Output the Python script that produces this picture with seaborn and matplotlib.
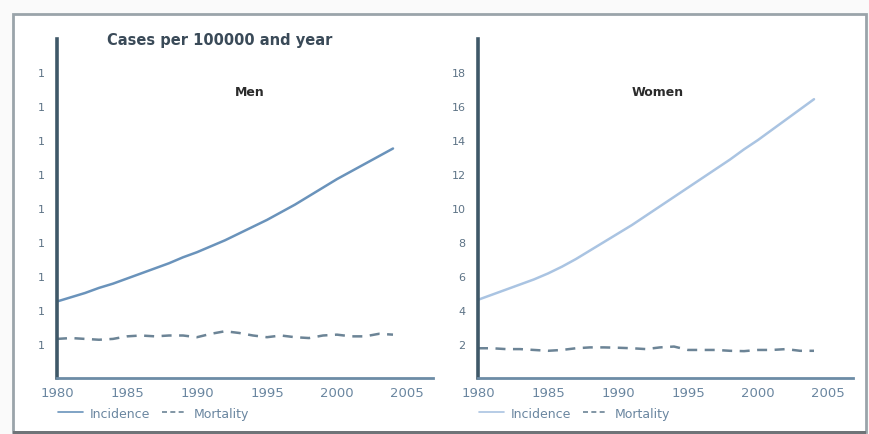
import numpy as np
import pandas as pd
import matplotlib
matplotlib.use("Agg")
import matplotlib.pyplot as plt
from matplotlib.patches import Rectangle
from matplotlib.lines import Line2D
import seaborn as sns

years = list(range(1980, 2005))
men_incidence = [4.5, 4.75, 5.0, 5.3, 5.55, 5.85, 6.15, 6.45, 6.75, 7.1, 7.4, 7.75, 8.1,
                 8.5, 8.9, 9.3, 9.75, 10.2, 10.7, 11.2, 11.7, 12.15, 12.6, 13.05, 13.5]
men_mortality = [2.3, 2.35, 2.3, 2.25, 2.3, 2.45, 2.5, 2.45, 2.5, 2.5, 2.4, 2.6, 2.75,
                 2.65, 2.5, 2.4, 2.5, 2.4, 2.35, 2.5, 2.55, 2.45, 2.45, 2.6, 2.55]
women_incidence = [4.6, 4.9, 5.2, 5.5, 5.8, 6.15, 6.55, 7.0, 7.5, 8.0, 8.5, 9.0, 9.55,
                   10.1, 10.65, 11.2, 11.75, 12.3, 12.85, 13.45, 14.0, 14.6, 15.2, 15.8, 16.4]
women_mortality = [1.75, 1.75, 1.7, 1.7, 1.65, 1.6, 1.65, 1.75, 1.8, 1.8, 1.78, 1.75, 1.7,
                   1.8, 1.85, 1.65, 1.65, 1.65, 1.6, 1.58, 1.65, 1.65, 1.7, 1.6, 1.6]
x_ticks = [1980, 1985, 1990, 1995, 2000, 2005]
y_ticks = [2, 4, 6, 8, 10, 12, 14, 16, 18]
men_ylabels = ["1"] * 9
women_ylabels = ["2", "4", "6", "8", "10", "12", "14", "16", "18"]
panel_titles = ["Men", "Women"]
main_title = "Cases per 100000 and year"
measures = ["Incidence", "Mortality"]

rows = []
for sex, inc, mort in [("Men", men_incidence, men_mortality), ("Women", women_incidence, women_mortality)]:
    for y, a, b in zip(years, inc, mort):
        rows.append({"year": y, "value": a, "measure": "Incidence", "sex": sex})
        rows.append({"year": y, "value": b, "measure": "Mortality", "sex": sex})
df = pd.DataFrame(rows)

sns.set_style("white")
plt.rcParams["font.family"] = ["DejaVu Sans"]

W, H = 869, 435
fig = plt.figure(figsize=(W / 100, H / 100), dpi=100)
fig.patch.set_facecolor("#fafafa")

# outer frame (behind the axes)
frame = Rectangle((13 / W, 1 - 433 / H), (866 - 13) / W, (433 - 15) / H,
                  transform=fig.transFigure, facecolor="white",
                  edgecolor="#9aa4aa", linewidth=2.0, zorder=-5)
fig.add_artist(frame)
shadow = Rectangle((13 / W, 0), (866 - 13) / W, 3 / H,
                   transform=fig.transFigure, facecolor="#6f7478",
                   edgecolor="none", zorder=-4)
fig.add_artist(shadow)

ax_specs = [
    (57, 433, "Men", "#6a93bb", "#6c8496", men_ylabels, 250, 93),
    (478, 853, "Women", "#aac4e2", "#6c8496", women_ylabels, 658, 92),
]
ax_top, ax_bot = 40, 379
px_per_year = 14.0
tick_color = "#5d7386"

for (x0, x1, sex, inc_col, mort_col, ylabels, tx, ty) in ax_specs:
    ax = fig.add_axes([x0 / W, 1 - ax_bot / H, (x1 - x0) / W, (ax_bot - ax_top) / H])
    ax.set_facecolor("none")
    ax.patch.set_alpha(0)
    sub = df[df["sex"] == sex]
    sns.lineplot(data=sub, x="year", y="value", hue="measure", style="measure",
                 palette={"Incidence": inc_col, "Mortality": mort_col},
                 dashes={"Incidence": "", "Mortality": (4, 3)},
                 linewidth=1.8, ax=ax, legend=False)
    ax.set_xlim(1980, 1980 + (x1 - x0) / px_per_year)
    ax.set_ylim(0, (ax_bot - ax_top) / ((ax_bot - 345) / 2))
    ax.set_xticks(x_ticks)
    ax.set_xticklabels([str(t) for t in x_ticks])
    ax.set_yticks(y_ticks)
    ax.set_yticklabels(ylabels)
    ax.set_xlabel("")
    ax.set_ylabel("")
    for s in ["top", "right"]:
        ax.spines[s].set_visible(False)
    ax.spines["left"].set_color("#3f5868")
    ax.spines["left"].set_linewidth(2.6)
    ax.spines["bottom"].set_color("#6d8ca6")
    ax.spines["bottom"].set_linewidth(2.0)
    ax.tick_params(axis="y", direction="out", length=6, width=1.2, color="#6d8ca6",
                   labelsize=8, labelcolor=tick_color, pad=3)
    ax.tick_params(axis="x", direction="inout", length=7, width=1.2, color="#6d8ca6",
                   labelsize=9.5, labelcolor="#6a86a0", pad=2)
    fig.text(tx / W, 1 - ty / H, sex, ha="center", va="center", fontsize=9,
             fontweight="bold", color="#2b2b2b")
    handles = [Line2D([], [], color=inc_col, lw=1.2),
               Line2D([], [], color=mort_col, lw=1.2, ls=(0, (3, 2)))]
    ax.legend(handles, measures, loc="upper left", ncol=2, frameon=False,
              bbox_to_anchor=(-0.01, -0.07), fontsize=9, handlelength=2.0,
              handletextpad=0.5, labelcolor="#6a86a0", columnspacing=1.0,
              borderaxespad=0)

fig.text(220 / W, 1 - 40 / H, main_title, ha="center", va="center", fontsize=10.5,
         fontweight="bold", color="#3a4a58")

fig.savefig("out.png", dpi=100, facecolor=fig.get_facecolor())
